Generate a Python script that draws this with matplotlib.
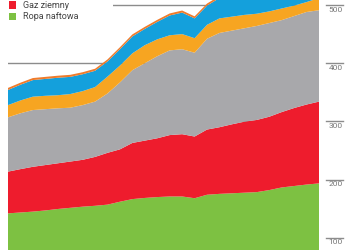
import matplotlib
matplotlib.use("Agg")
import matplotlib.pyplot as plt
from matplotlib.patches import Rectangle
import numpy as np

years = list(range(1994, 2020))

# cumulative tops, converted to per-source values below
oil_top = [142, 143.5, 145, 147, 149.5, 151.5, 153.5, 155, 157, 162, 166.5, 168.5, 170,
           171, 171, 168, 174, 175.5, 176.5, 177.5, 178.5, 182, 186.5, 189, 191.5, 193.5]
gas_top = [213.7, 218, 222, 225, 228, 231, 234, 239, 246, 252, 263, 267, 271,
           276.5, 278, 274, 286, 290, 295, 299.5, 302.5, 308, 316, 323, 329, 334]
coal_top = [307, 314, 319.5, 321, 322.5, 323.5, 328, 334, 348, 367, 388, 400, 412,
            422, 424, 418, 442, 452, 456, 460, 464, 469, 474, 481, 488, 491]
nuc_top = [328, 336, 342.5, 344, 345, 347, 352, 359, 377, 396, 417, 431, 441,
           448, 450, 443, 466, 477, 480, 483, 485, 489, 494, 499, 505, 512]
hydro_top = [354, 363, 371, 373, 375, 376.5, 381, 387, 403, 424, 446, 459, 471,
             482, 487, 477, 499, 512, 516, 519, 522, 526, 530, 535, 541, 546]
other_extra = [3.5] * 26

oil = np.array(oil_top)
gas = np.array(gas_top) - np.array(oil_top)
coal = np.array(coal_top) - np.array(gas_top)
nuclear = np.array(nuc_top) - np.array(coal_top)
hydro = np.array(hydro_top) - np.array(nuc_top)
other = np.array(other_extra)

colors = ["#7dc142", "#ee1c2d", "#a8a8ab", "#f7a521", "#14a0dc", "#f07b2a"]
legend_labels = ["Gaz ziemny", "Ropa naftowa"]
legend_colors = ["#ee1c2d", "#7dc142"]
yticks = [100, 200, 300, 400, 500]

W, H = 350, 250
fig = plt.figure(figsize=(3.5, 2.5), dpi=100)
ax = fig.add_axes([8 / W, 0, (319 - 8) / W, 1])
ax.stackplot(years, oil, gas, coal, nuclear, hydro, other, colors=colors,
             linewidth=0, zorder=2)
ax.set_xlim(years[0], years[-1])
ax.set_ylim(500 - 245 / 0.582, 500 + 5 / 0.582)
for s in ax.spines.values():
    s.set_visible(False)
ax.set_xticks([])
ax.set_yticks([])
for v in yticks:
    ax.axhline(v, color="#8c8c8c", linewidth=1.0, zorder=1)

# right-side tick marks and labels
tr = ax.get_yaxis_transform()
for v in yticks:
    ax.plot([(326 - 8) / (319 - 8), (343 - 8) / (319 - 8)], [v, v],
            transform=tr, color="#8c8c8c", linewidth=1.0, clip_on=False)
    ax.text((343 - 8) / (319 - 8), v - 1.6 / 0.582 * 1.0, str(v), transform=tr,
            ha="right", va="top", fontsize=6, color="#777777",
            family="Roboto", clip_on=False)

# legend (top-left, white background)
fig.patches.append(Rectangle((0, 1 - 24 / H), 113 / W, 24 / H,
                             transform=fig.transFigure, facecolor="white",
                             edgecolor="none", zorder=5))
for i, (lab, col) in enumerate(zip(legend_labels, legend_colors)):
    yc = 5 + i * 11.5
    fig.patches.append(Rectangle((9 / W, 1 - (yc + 3.5) / H), 7 / W, 7 / H,
                                 transform=fig.transFigure, facecolor=col,
                                 edgecolor="none", zorder=6))
    fig.text(23 / W, 1 - yc / H, lab, ha="left", va="center", fontsize=6.5,
             color="#444444", family="Roboto", zorder=7)

fig.savefig("out.png", dpi=100)
